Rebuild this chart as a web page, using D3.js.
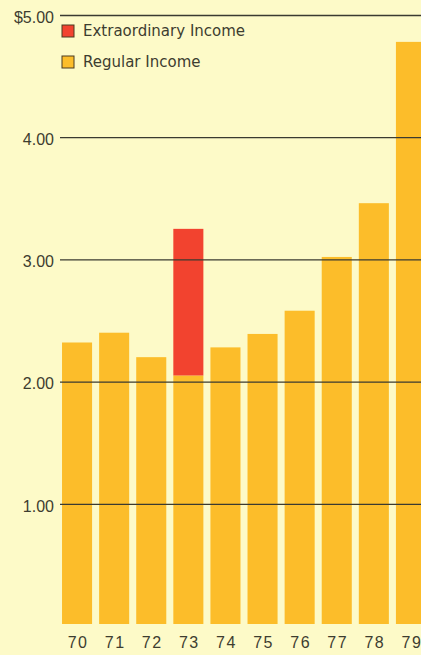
<!DOCTYPE html>
<html>
<head>
<meta charset="utf-8">
<script src="https://cdn.jsdelivr.net/npm/d3@7"></script>
<style>
  html, body { margin: 0; padding: 0; background: #fdfac8; }
  svg { display: block; font-family: "DejaVu Sans", sans-serif; }
</style>
</head>
<body>
<div id="chart"></div>
<script>
// earnings per share, regular vs extraordinary income, 1970-79
const years = ["70", "71", "72", "73", "74", "75", "76", "77", "78", "79"];
const regular = [2.32, 2.40, 2.20, 2.05, 2.28, 2.39, 2.58, 3.02, 3.46, 4.78];
const extraordinary = [0, 0, 0, 1.20, 0, 0, 0, 0, 0, 0];
const yTicks = [1, 2, 3, 4, 5];
const legendItems = ["Extraordinary Income", "Regular Income"];

const width = 421, height = 655;
const colors = { regular: "#fcbd2a", extra: "#f2432f", grid: "#3a3a30", text: "#3d3d30" };

const svg = d3.select("#chart").append("svg")
    .attr("width", width)
    .attr("height", height);

const x = d3.scaleBand()
    .domain(years)
    .range([58.5, 429.5])
    .paddingInner(0.19)
    .paddingOuter(0.095);

const y = d3.scaleLinear()
    .domain([0, 5])
    .range([626, 15]);

// Bars
svg.selectAll(".reg")
    .data(years)
    .enter().append("rect")
    .attr("class", "reg")
    .attr("x", d => x(d))
    .attr("width", x.bandwidth())
    .attr("y", (d, i) => y(regular[i]))
    .attr("height", (d, i) => y(0) - y(regular[i]) - 2)
    .attr("fill", colors.regular);

svg.selectAll(".extra")
    .data(years.filter((d, i) => extraordinary[i] > 0))
    .enter().append("rect")
    .attr("class", "extra")
    .attr("x", d => x(d))
    .attr("width", x.bandwidth())
    .attr("y", d => { const i = years.indexOf(d); return y(regular[i] + extraordinary[i]); })
    .attr("height", d => { const i = years.indexOf(d); return y(regular[i]) - y(regular[i] + extraordinary[i]); })
    .attr("fill", colors.extra);

// Y axis with gridlines on top of bars
const yAxis = svg.append("g")
    .attr("transform", "translate(60,0)")
    .call(d3.axisLeft(y)
        .tickValues(yTicks)
        .tickSize(-(width - 60))
        .tickPadding(6)
        .tickFormat(d => d === 5 ? "$5.00" : d.toFixed(2)));
yAxis.select(".domain").remove();
yAxis.selectAll("line")
    .attr("stroke", colors.grid)
    .attr("stroke-width", 1.3);
yAxis.selectAll("text")
    .attr("fill", colors.text)
    .attr("dy", "0.45em")
    .style("font-size", "16px");

// X axis
const xAxis = svg.append("g")
    .attr("transform", `translate(0,${y(0)})`)
    .call(d3.axisBottom(x).tickSize(0).tickPadding(11));
xAxis.select(".domain").remove();
xAxis.selectAll("text")
    .attr("fill", colors.text)
    .attr("dx", "1px")
    .style("font-size", "16px")
    .style("letter-spacing", "1.5px");

// Legend
const legend = svg.append("g").attr("transform", "translate(62,25)");
legendItems.forEach((name, i) => {
    const g = legend.append("g").attr("transform", `translate(0,${i * 31})`);
    g.append("rect")
        .attr("width", 12)
        .attr("height", 12)
        .attr("fill", i === 0 ? colors.extra : colors.regular)
        .attr("stroke", "#4a3a20")
        .attr("stroke-width", 1);
    g.append("text")
        .attr("x", 21)
        .attr("y", 6)
        .attr("dy", "0.35em")
        .attr("fill", colors.text)
        .style("font-size", "15px")
        .text(name);
});
</script>
</body>
</html>
